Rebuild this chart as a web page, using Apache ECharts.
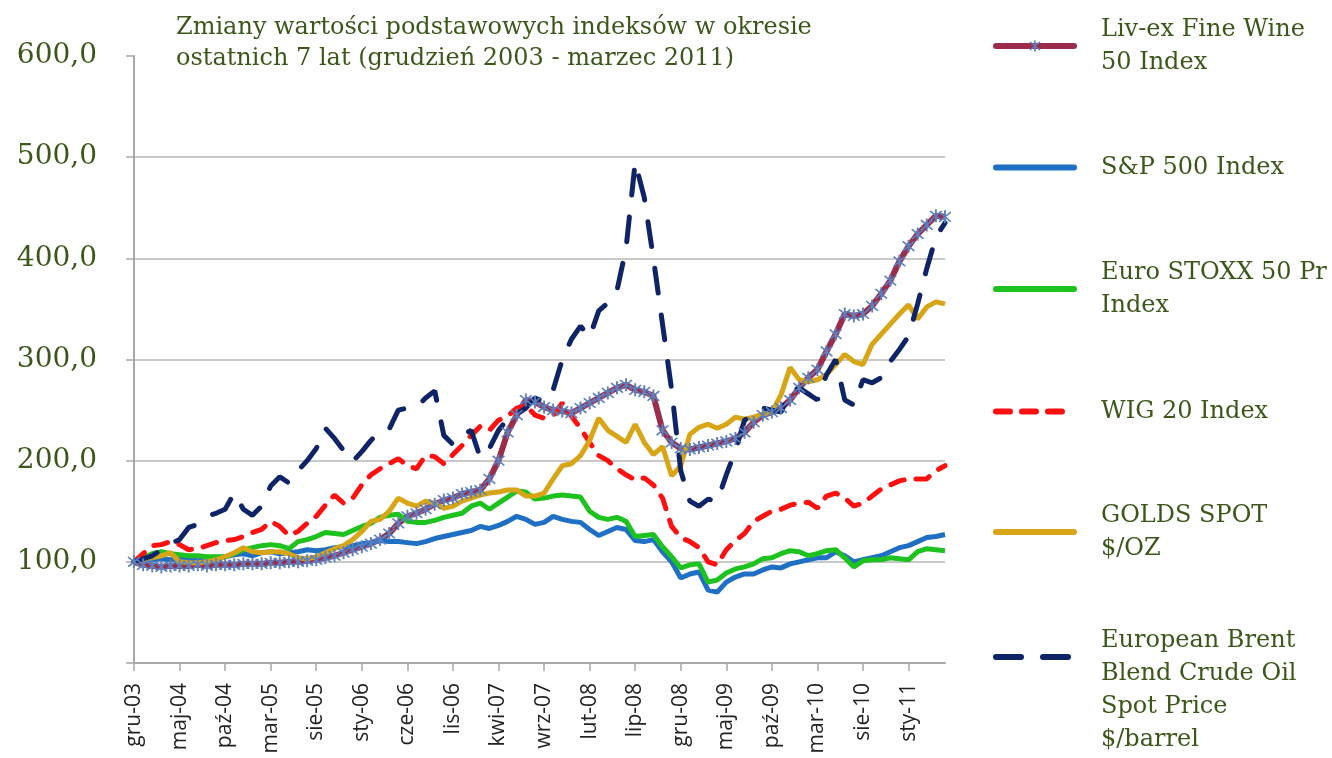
<!DOCTYPE html>
<html>
<head>
<meta charset="utf-8">
<script src="https://cdn.jsdelivr.net/npm/echarts@6/dist/echarts.min.js"></script>
<style>
  html, body { margin: 0; padding: 0; background: #fff; }
  #chart { width: 1332px; height: 758px; }
</style>
</head>
<body>
<div id="chart"></div>
<script>
// miesiące od gru-03, co miesiąc
var monthNames = ['sty', 'lut', 'mar', 'kwi', 'maj', 'cze', 'lip', 'sie', 'wrz', 'paź', 'lis', 'gru'];
var months = [];
for (var k = 0; k < 90; k++) {
  var m = (11 + k) % 12;
  var y = 3 + Math.floor((11 + k) / 12);
  months.push(monthNames[m] + '-' + (y < 10 ? '0' + y : y));
}

var yTicks = [0, 100, 200, 300, 400, 500, 600];

var livex = [100, 97, 96, 95, 96, 96, 96, 97, 96, 97, 97, 97, 98, 98, 98, 99, 99, 100, 100, 101,
  102, 104, 106, 109, 112, 115, 118, 122, 128, 138, 145, 148, 152, 157, 161, 163, 167, 169, 171, 182,
  200, 228, 245, 260, 258, 253, 250, 249, 247, 252, 257, 262, 267, 272, 275, 270, 268, 264, 230, 218,
  212, 211, 213, 215, 217, 219, 222, 228, 238, 245, 248, 252, 260, 272, 282, 290, 308, 325, 345, 343,
  345, 353, 365, 378, 397, 412, 424, 433, 442, 441];

var sp500 = [100, 101, 102, 103, 102, 103, 102, 101, 102, 104, 105, 107, 108, 106, 109, 110, 108, 109, 110, 112,
  111, 112, 114, 115, 116, 118, 119, 121, 120, 120, 119, 118, 120, 123, 125, 127, 129, 131, 135, 133,
  136, 140, 145, 142, 137, 139, 145, 142, 140, 139, 132, 126, 130, 134, 132, 121, 120, 122, 110, 100,
  84, 88, 90, 72, 70, 80, 85, 88, 88, 92, 95, 94, 98, 100, 102, 104, 104, 110, 106, 100,
  102, 104, 106, 110, 114, 116, 120, 124, 125, 127];

var stoxx = [100, 104, 108, 110, 108, 107, 106, 106, 105, 105, 105, 108, 112, 114, 116, 117, 116, 113, 120, 122,
  125, 129, 128, 127, 131, 135, 138, 144, 146, 147, 140, 139, 139, 141, 144, 146, 148, 155, 158, 152,
  158, 164, 170, 169, 162, 163, 165, 166, 165, 164, 150, 144, 142, 144, 140, 125, 126, 127, 115, 105,
  94, 97, 98, 80, 82, 89, 93, 95, 98, 103, 104, 108, 111, 110, 106, 108, 111, 112, 104, 95,
  101, 102, 102, 104, 103, 102, 110, 113, 112, 111];

var wig20 = [100, 108, 116, 117, 120, 117, 112, 113, 116, 119, 121, 122, 125, 129, 132, 140, 135, 126, 130, 138,
  145, 156, 166, 158, 163, 176, 186, 192, 197, 202, 195, 192, 205, 204, 197, 206, 215, 225, 234, 230,
  240, 244, 252, 255, 245, 242, 245, 257, 244, 232, 218, 205, 200, 192, 186, 181, 183, 176, 163, 135,
  124, 120, 114, 100, 97, 112, 121, 128, 140, 145, 150, 152, 156, 158, 159, 153, 165, 168, 163, 155,
  158, 165, 172, 176, 180, 182, 182, 182, 190, 195];

var gold = [100, 102, 104, 106, 109, 100, 99, 99, 100, 102, 105, 109, 114, 110, 109, 110, 110, 108, 104, 103,
  105, 109, 113, 116, 122, 130, 140, 142, 150, 163, 158, 155, 160, 158, 153, 155, 160, 163, 166, 168,
  169, 171, 171, 165, 165, 168, 182, 195, 197, 205, 220, 242, 230, 224, 218, 236, 218, 206, 214, 185,
  195, 226, 233, 236, 232, 236, 243, 241, 243, 246, 248, 265, 292, 280, 278, 280, 285, 295, 305, 298,
  295, 315, 325, 335, 345, 354, 340, 352, 357, 355];

var brent = [100, 103, 106, 112, 118, 122, 134, 137, 145, 148, 152, 168, 152, 146, 155, 175, 184, 178, 190, 200,
  212, 232, 222, 210, 199, 209, 220, 229, 231, 250, 252, 253, 262, 269, 225, 216, 225, 230, 203, 212,
  230, 241, 246, 252, 262, 258, 270, 300, 320, 333, 322, 348, 356, 368, 410, 495, 460, 400, 335, 270,
  190, 160, 155, 162, 160, 186, 210, 240, 246, 252, 250, 248, 268, 272, 266, 260, 285, 300, 260, 255,
  280, 277, 282, 298, 310, 323, 355, 390, 421, 435];

var olive = '#3b5719';
var serif = 'DejaVu Serif';

var chart = echarts.init(document.getElementById('chart'));

// gwiazdka jak w Excelu
var star = 'path://M4.4 0H5.6V10H4.4Z M0.9 1.7L1.7 0.9L9.1 8.3L8.3 9.1Z M8.3 0.9L9.1 1.7L1.7 9.1L0.9 8.3Z';

// osobna legenda dla każdej serii, żeby ustawić je jak w oryginale
function legendAt(name, top, hideSymbol, fmt) {
  var item = { name: name };
  if (hideSymbol) item.itemStyle = { opacity: 0 };
  return {
    data: [item],
    left: 988,
    top: top,
    orient: 'vertical',
    itemWidth: 78,
    itemHeight: 14,
    selectedMode: false,
    formatter: fmt,
    lineStyle: { width: 6, cap: 'round' },
    textStyle: {
      fontFamily: serif,
      fontSize: 24,
      lineHeight: 33,
      color: olive,
      padding: [0, 0, 0, 22]
    }
  };
}

var option = {
  animation: false,
  title: {
    text: 'Zmiany wartości podstawowych indeksów w okresie\nostatnich 7 lat (grudzień 2003 - marzec 2011)',
    left: 171,
    top: 7,
    textStyle: {
      fontFamily: serif,
      fontSize: 24,
      fontWeight: 'normal',
      lineHeight: 31,
      color: olive
    }
  },
  legend: [
    legendAt('Liv-ex Fine Wine\n50 Index', 8, false),
    legendAt('S&P 500 Index', 146, true),
    legendAt('Euro STOXX 50 Pr\nIndex', 251, true),
    legendAt('WIG 20 Index', 390, true),
    legendAt('GOLDS SPOT\n$/OZ', 494, true),
    legendAt('European Brent\nBlend Crude Oil\nSpot Price\n$/barrel', 553, true, function (n) { return '\n\n' + n; })
  ],
  grid: {
    left: 134,
    right: 387,
    top: 56,
    bottom: 95
  },
  xAxis: {
    type: 'category',
    data: months,
    boundaryGap: false,
    axisLine: { lineStyle: { color: '#a8a8a8', width: 2 } },
    axisTick: { interval: 4, length: 8, lineStyle: { color: '#a8a8a8', width: 1.5 } },
    axisLabel: {
      interval: 4,
      rotate: 90,
      margin: 20,
      fontFamily: 'Open Sans',
      fontSize: 21,
      color: '#222'
    }
  },
  yAxis: {
    type: 'value',
    min: yTicks[0],
    max: yTicks[yTicks.length - 1],
    interval: 100,
    axisLine: { show: true, lineStyle: { color: '#a8a8a8', width: 2 } },
    axisTick: { show: true, length: 8, lineStyle: { color: '#a8a8a8', width: 1.5 } },
    axisLabel: {
      margin: 37,
      fontFamily: serif,
      fontSize: 28,
      color: olive,
      formatter: function (v) {
        return v === 0 ? '' : v.toFixed(1).replace('.', ',');
      }
    },
    splitLine: {
      lineStyle: {
        color: ['#c8c8c8', '#c8c8c8', '#c8c8c8', '#c8c8c8', '#c8c8c8', '#c8c8c8', 'rgba(0,0,0,0)'],
        width: 2
      }
    }
  },
  series: [
    {
      name: 'Liv-ex Fine Wine\n50 Index',
      type: 'line',
      data: livex,
      symbol: star,
      symbolSize: 13,
      showSymbol: true,
      showAllSymbol: true,
      itemStyle: { color: '#5b80c0' },
      lineStyle: { color: '#9b2c4c', width: 6 }
    },
    {
      name: 'S&P 500 Index',
      type: 'line',
      data: sp500,
      symbol: 'none',
      itemStyle: { color: '#1f6fc5' },
      lineStyle: { color: '#1f6fc5', width: 5 }
    },
    {
      name: 'Euro STOXX 50 Pr\nIndex',
      type: 'line',
      data: stoxx,
      symbol: 'none',
      itemStyle: { color: '#1ec21e' },
      lineStyle: { color: '#1ec21e', width: 5 }
    },
    {
      name: 'WIG 20 Index',
      type: 'line',
      data: wig20,
      symbol: 'none',
      itemStyle: { color: '#ff1010' },
      lineStyle: { color: '#ff1010', width: 5, type: [14, 12], cap: 'round' }
    },
    {
      name: 'GOLDS SPOT\n$/OZ',
      type: 'line',
      data: gold,
      symbol: 'none',
      itemStyle: { color: '#d8a517' },
      lineStyle: { color: '#d8a517', width: 5 }
    },
    {
      name: 'European Brent\nBlend Crude Oil\nSpot Price\n$/barrel',
      type: 'line',
      data: brent,
      symbol: 'none',
      itemStyle: { color: '#0e2466' },
      lineStyle: { color: '#0e2466', width: 5, type: [25, 22], cap: 'round' }
    }
  ]
};

chart.setOption(option);
</script>
</body>
</html>
